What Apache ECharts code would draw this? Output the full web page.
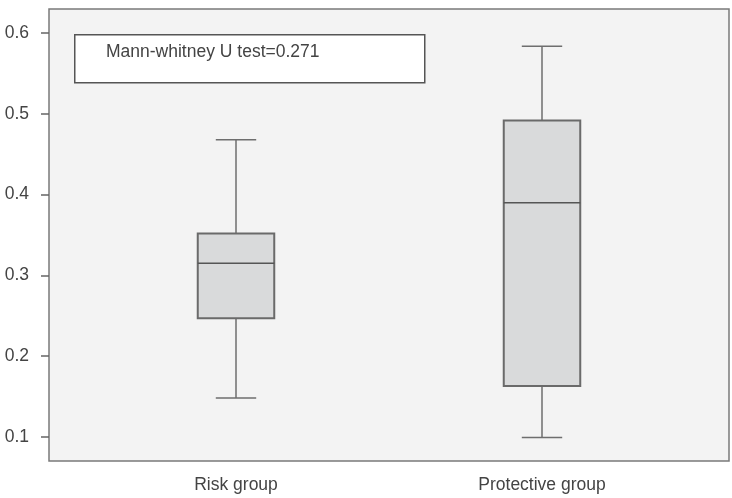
<!DOCTYPE html>
<html lang="en">
<head>
    <meta charset="UTF-8">
    <title>Mann-whitney boxplot</title>
    <script src="https://cdn.jsdelivr.net/npm/echarts@6/dist/echarts.min.js"></script>
    <style>
        body { margin: 0; background: #fff; }
        #root { width: 732px; height: 498px; }
    </style>
</head>
<body>
    <div id="root"></div>
    <script>
        // values
        var groups = ['Risk group', 'Protective group'];
        var lows = [0.148, 0.099];
        var q1s = [0.247, 0.163];
        var medians = [0.315, 0.390];
        var q3s = [0.352, 0.492];
        var highs = [0.468, 0.584];
        var yTicks = [0.1, 0.2, 0.3, 0.4, 0.5, 0.6];
        var note = 'Mann-whitney U test=0.271';

        var boxData = groups.map(function (g, i) {
            return [i, lows[i], q1s[i], medians[i], q3s[i], highs[i]];
        });

        var chart = echarts.init(document.getElementById('root'));

        chart.setOption({
            animation: false,
            grid: [{
                left: 49, top: 9, width: 680, height: 452,
                show: true,
                backgroundColor: '#f3f3f3',
                borderColor: '#7a7a7a',
                borderWidth: 1.5
            }, {
                left: 83, top: 9, width: 612, height: 452
            }],
            xAxis: [{
                gridIndex: 0, type: 'value', show: false, min: 0, max: 1
            }, {
                gridIndex: 1, type: 'category', data: groups,
                axisLine: { show: false },
                axisTick: { show: false },
                axisLabel: { color: '#444', fontSize: 17.5, margin: 15, fontFamily: 'Liberation Sans' }
            }],
            yAxis: [{
                gridIndex: 0, type: 'value', min: 0.07, max: 0.63,
                splitLine: { show: false },
                axisLine: { show: false },
                axisTick: {
                    show: true, length: 8, customValues: yTicks,
                    lineStyle: { color: '#666', width: 1.5 }
                },
                axisLabel: {
                    customValues: yTicks, color: '#444', fontSize: 17.5, margin: 20,
                    fontFamily: 'Liberation Sans',
                    formatter: function (v) { return v.toFixed(1); }
                }
            }, {
                gridIndex: 1, type: 'value', min: 0.07, max: 0.63, show: false
            }],
            series: [{
                type: 'custom',
                xAxisIndex: 1,
                yAxisIndex: 1,
                data: boxData,
                renderItem: function (params, api) {
                    var c = api.value(0);
                    var band = api.size([1, 0])[0];
                    var half = band * 0.125;
                    var cap = band * 0.066;
                    var pLow = api.coord([c, api.value(1)]);
                    var pQ1 = api.coord([c, api.value(2)]);
                    var pMed = api.coord([c, api.value(3)]);
                    var pQ3 = api.coord([c, api.value(4)]);
                    var pHigh = api.coord([c, api.value(5)]);
                    var x = pMed[0];
                    var whisker = { stroke: '#6e6e6e', lineWidth: 1.5 };
                    return {
                        type: 'group',
                        children: [{
                            type: 'line',
                            shape: { x1: x, y1: pHigh[1], x2: x, y2: pQ3[1] },
                            style: whisker
                        }, {
                            type: 'line',
                            shape: { x1: x, y1: pQ1[1], x2: x, y2: pLow[1] },
                            style: whisker
                        }, {
                            type: 'line',
                            shape: { x1: x - cap, y1: pHigh[1], x2: x + cap, y2: pHigh[1] },
                            style: whisker
                        }, {
                            type: 'line',
                            shape: { x1: x - cap, y1: pLow[1], x2: x + cap, y2: pLow[1] },
                            style: whisker
                        }, {
                            type: 'rect',
                            shape: { x: x - half, y: pQ3[1], width: half * 2, height: pQ1[1] - pQ3[1] },
                            style: { fill: '#d9dadb', stroke: '#6a6a6a', lineWidth: 2 }
                        }, {
                            type: 'line',
                            shape: { x1: x - half, y1: pMed[1], x2: x + half, y2: pMed[1] },
                            style: { stroke: '#555', lineWidth: 1.5 }
                        }]
                    };
                }
            }],
            graphic: [{
                type: 'rect',
                left: 74, top: 34,
                shape: { width: 350, height: 48 },
                style: { fill: '#fff', stroke: '#555', lineWidth: 1.5 }
            }, {
                type: 'text',
                left: 106, top: 43,
                style: { text: note, fill: '#444', fontSize: 17.5, fontFamily: 'Liberation Sans' }
            }]
        });
    </script>
</body>
</html>
